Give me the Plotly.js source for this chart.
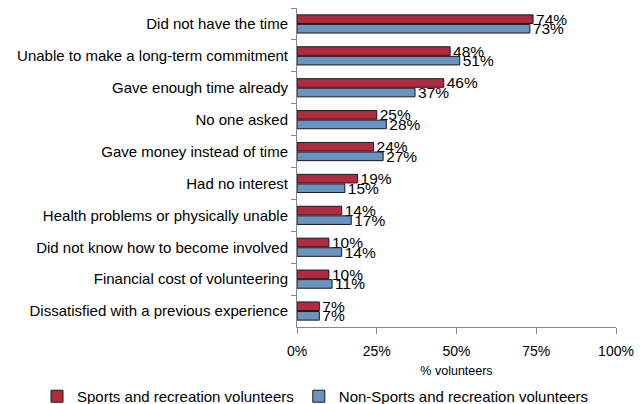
<!DOCTYPE html>
<html><head><meta charset="utf-8">
<script src="https://cdn.plot.ly/plotly-3.0.1.min.js"></script>
<style>body{margin:0;padding:0;background:#fff}#chart{width:643px;height:404px}</style>
</head><body><div id="chart"></div>
<script>
var categories = ["Did not have the time","Unable to make a long-term commitment","Gave enough time already","No one asked","Gave money instead of time","Had no interest","Health problems or physically unable","Did not know how to become involved","Financial cost of volunteering","Dissatisfied with a previous experience"];
var sportsValues = [74,48,46,25,24,19,14,10,10,7];
var nonSportsValues = [73,51,37,28,27,15,17,14,11,7];
var seriesNames = ["Sports and recreation volunteers","Non-Sports and recreation volunteers"];
var xTicks = [0,25,50,75,100];
var xTickLabels = ["0%","25%","50%","75%","100%"];

function mk(vals, name, color){
  return {type:'bar', orientation:'h', y:categories, x:vals, name:name,
    marker:{color:color, line:{color:'#1a1a1a', width:1}},
    text:vals.map(function(v){return v+'%';}), textposition:'outside',
    textfont:{family:'Liberation Sans, Arial, sans-serif', size:15.5, color:'#000'},
    cliponaxis:false, constraintext:'none', hoverinfo:'skip'};
}
var data = [mk(sportsValues, seriesNames[0], '#B22A40'), mk(nonSportsValues, seriesNames[1], '#6A93C0')];
var layout = {
  width:643, height:404, margin:{l:297, r:27, t:8, b:77, autoexpand:false},
  paper_bgcolor:'#fff', plot_bgcolor:'#fff',
  font:{family:'Liberation Sans, Arial, sans-serif', size:14, color:'#000'},
  barmode:'group', bargap:0.4, bargroupgap:0.1,
  showlegend:true,
  xaxis:{range:[0,100], tickvals:xTicks, ticktext:xTickLabels, showgrid:false, zeroline:false,
    showline:true, linecolor:'#888', ticks:'outside', ticklen:6, tickcolor:'#888', ticklabelstandoff:5,
    tickfont:{size:14}, title:{text:'% volunteers', font:{size:12.5}}},
  yaxis:{autorange:'reversed', showgrid:false, zeroline:false, showline:true, linecolor:'#888',
    ticks:'outside', ticklen:5, tickcolor:'#888', tickson:'boundaries', ticklabelstandoff:5,
    tickfont:{size:15}},
  legend:{orientation:'h', xref:'paper', x:-0.815, xanchor:'left', yref:'paper', y:-0.166, yanchor:'top',
    font:{size:15}, itemwidth:30, traceorder:'normal'}
};
Plotly.newPlot('chart', data, layout, {displayModeBar:false, staticPlot:true});
</script></body></html>
